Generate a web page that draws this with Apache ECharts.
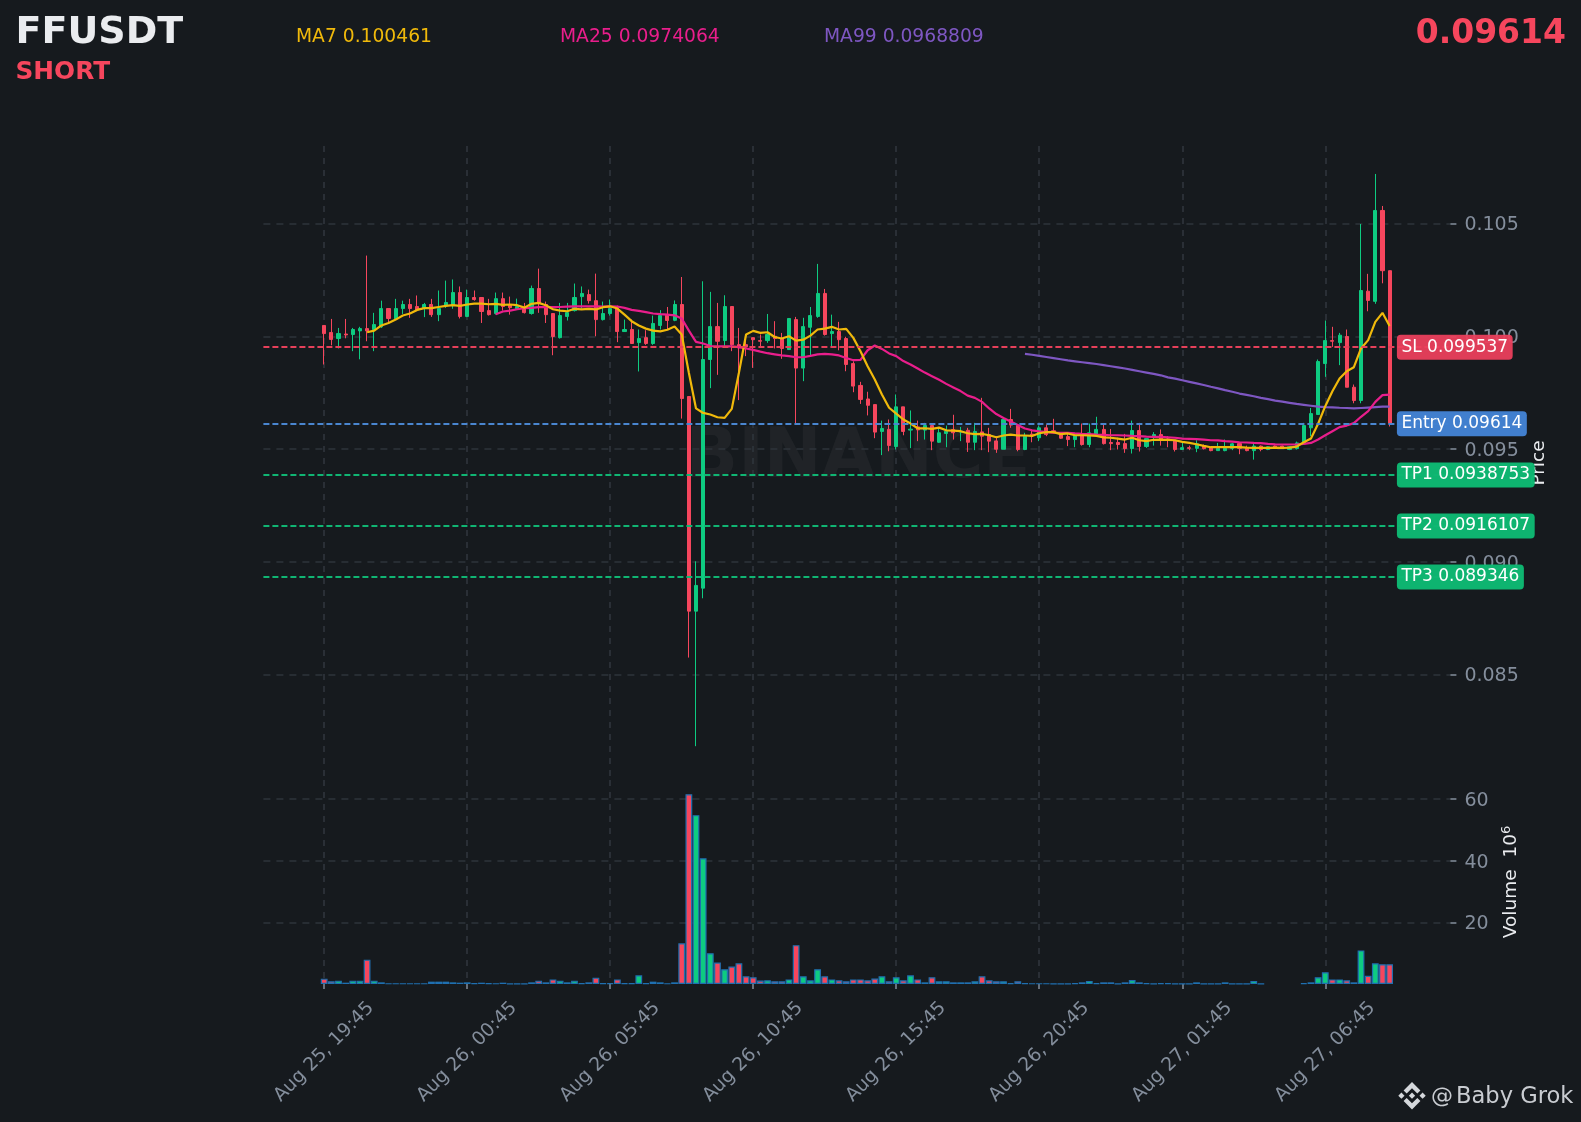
<!DOCTYPE html>
<html>
<head>
<meta charset="utf-8">
<style>html,body{margin:0;padding:0;background:#161A1E}#c{width:1581px;height:1122px}</style>
<script src="https://cdn.jsdelivr.net/npm/echarts@6/dist/echarts.min.js"></script>
</head>
<body>
<div id="c"></div>
<script>
const symbolName = 'FFUSDT';
const sideName = 'SHORT';
const lastPrice = '0.09614';
const maLabels = ['MA7 0.100461', 'MA25 0.0974064', 'MA99 0.0968809'];
const priceTicks = [0.085, 0.09, 0.095, 0.1, 0.105];
const volumeTicks = [20, 40, 60];
const tickLabels = ['Aug 25, 19:45','Aug 26, 00:45','Aug 26, 05:45','Aug 26, 10:45','Aug 26, 15:45','Aug 26, 20:45','Aug 27, 01:45','Aug 27, 06:45'];
const levelNames = ['SL','Entry','TP1','TP2','TP3'];
const levelValues = [0.099537,0.09614,0.0938753,0.0916107,0.089346];
const levelTexts = ['0.099537','0.09614','0.0938753','0.0916107','0.089346'];

// open, close, low, high in thousandths of USDT, one row per 15 minute candle
const ohlc = [
[100.48,100.12,98.75,100.48],[100.17,99.86,99.60,100.77],[99.90,100.12,99.46,100.37],[100.10,100.06,99.91,100.77],[100.08,100.30,99.34,100.37],
[100.24,100.34,98.98,100.42],[100.34,100.24,99.78,103.58],[100.30,100.52,99.34,101.04],[100.42,101.23,100.37,101.58],[101.23,100.79,100.59,101.23],
[100.77,101.23,100.74,101.66],[101.23,101.41,100.99,101.58],[101.41,101.23,100.82,101.66],[101.32,101.17,101.14,101.81],[101.26,101.41,100.85,101.48],
[101.41,100.96,100.86,101.66],[100.96,101.23,100.67,102.03],[101.35,101.50,101.26,102.47],[101.39,101.94,101.22,102.52],[101.94,100.88,100.79,102.21],
[100.88,101.72,100.85,102.07],[101.72,101.63,101.58,102.03],[101.72,101.10,100.59,101.72],[101.14,100.96,100.92,101.66],[101.01,101.67,100.96,101.94],
[101.67,101.32,101.14,101.94],[101.41,101.27,100.96,101.76],[101.22,101.32,101.19,101.67],[101.26,101.05,101.01,101.48],[101.01,102.12,100.96,102.25],
[102.12,101.45,101.04,103.00],[101.41,100.96,100.59,101.54],[101.01,99.99,99.16,101.01],[99.94,100.92,99.90,101.48],[100.88,101.05,100.70,101.48],
[101.14,101.72,101.10,102.34],[101.76,101.90,101.23,102.21],[101.85,101.58,101.45,102.07],[101.58,100.74,100.00,102.78],[100.74,101.01,100.70,101.54],
[101.01,101.23,100.92,101.63],[101.27,100.21,99.74,101.36],[100.21,100.30,100.19,100.74],[100.30,99.68,99.66,100.74],[99.72,99.90,98.44,100.30],
[99.94,99.68,99.62,100.27],[99.68,100.57,99.62,100.92],[100.48,100.92,100.30,101.16],[100.93,100.70,100.30,101.30],[100.71,101.41,100.67,101.59],
[101.41,97.24,96.35,102.63],[97.33,87.81,85.75,97.33],[87.81,88.95,81.82,90.02],[88.83,98.97,88.38,102.44],[98.97,100.43,97.70,101.97],
[100.43,99.78,98.29,101.48],[99.81,101.32,99.56,101.82],[101.32,99.63,99.34,101.32],[99.63,99.49,97.17,100.37],[99.63,99.53,99.12,100.08],
[99.94,99.85,98.60,99.94],[99.81,99.78,99.53,100.08],[99.81,100.08,99.71,100.99],[100.00,99.90,99.46,100.67],[99.88,99.46,99.00,100.15],
[99.41,100.79,99.41,100.79],[100.74,98.59,96.15,100.86],[98.59,100.43,98.01,100.82],[100.40,100.92,99.12,101.30],[100.88,101.90,100.82,103.21],
[101.90,100.08,100.03,102.10],[100.12,100.21,99.56,100.96],[100.21,99.85,99.38,100.64],[99.90,98.75,98.45,99.98],[98.79,97.79,97.52,98.89],
[97.82,97.20,97.00,97.98],[97.22,96.94,96.49,97.54],[96.97,95.75,95.48,96.97],[95.78,95.91,94.73,96.26],[95.87,95.16,94.90,96.31],
[95.11,96.87,94.98,97.42],[96.87,95.78,95.61,96.87],[95.84,95.88,95.04,96.71],[95.98,95.85,95.35,96.26],[95.84,96.04,95.42,96.16],
[96.04,95.35,94.95,96.04],[95.30,95.72,95.27,95.98],[95.69,95.79,95.08,96.04],[95.86,95.72,95.42,96.52],[95.75,95.79,95.35,95.98],
[95.83,95.30,94.87,95.94],[95.30,95.78,94.95,96.16],[95.76,95.57,94.95,97.27],[95.64,95.35,94.86,95.94],[95.36,94.99,94.83,95.57],
[94.99,96.31,94.99,96.31],[96.31,96.06,95.94,96.78],[96.04,94.98,94.90,96.09],[94.98,95.57,94.95,95.72],[95.66,95.63,95.30,95.86],
[95.50,95.94,95.35,96.04],[95.94,95.64,95.57,96.09],[95.81,95.72,95.69,96.34],[95.72,95.48,95.45,95.75],[95.55,95.42,95.13,95.72],
[95.42,95.60,95.08,95.62],[95.60,95.20,95.15,96.13],[95.20,95.72,95.08,96.13],[95.60,95.87,95.57,96.43],[95.87,95.24,95.20,96.13],
[95.29,95.24,94.95,95.89],[95.29,95.20,94.98,95.50],[95.24,95.02,94.83,95.67],[95.02,95.82,94.80,96.26],[95.82,95.11,94.89,96.16],
[95.11,95.46,95.05,95.46],[95.57,95.64,95.15,95.75],[95.64,95.42,95.15,95.87],[95.45,95.39,95.08,95.57],[95.39,94.98,94.89,95.39],
[94.98,95.06,94.98,95.27],[95.06,95.03,94.95,95.15],[95.03,95.23,94.86,95.39],[95.14,95.02,94.98,95.20],[95.06,94.93,94.90,95.06],
[94.93,95.03,94.93,95.27],[94.93,95.03,94.90,95.42],[95.03,95.23,94.95,95.27],[95.24,95.03,94.77,95.24],[95.03,94.93,94.90,95.15],
[94.93,95.13,94.53,95.27],[95.13,94.98,94.90,95.16],[94.98,95.10,94.95,95.13],[95.13,95.03,95.00,95.16],[95.13,95.03,95.00,95.15],
[94.98,95.10,94.95,95.12],[95.02,95.27,94.98,95.33],[95.23,96.04,95.20,96.16],[95.94,96.57,95.57,96.82],[96.53,98.88,96.53,98.97],
[98.79,99.81,98.20,100.70],[99.81,99.78,99.53,100.42],[99.72,100.05,98.72,100.15],[99.99,97.74,97.74,100.30],[97.74,97.15,97.03,97.86],
[97.15,102.03,97.03,104.98],[102.00,101.59,101.11,102.77],[101.55,105.58,101.44,107.20],[105.58,102.91,102.35,105.78],[102.91,96.14,96.00,102.91]
];

// volume in millions, one per candle
const volumes = [
1.73,.87,1.08,.43,1.08,1.08,7.9,1.08,.54,.15,
.15,.15,.15,.15,.15,.76,.76,.76,.54,.43,
.54,.2,.43,.2,.15,.43,.1,.1,.1,.54,
1.08,.54,1.5,1.08,.54,1.08,.2,.54,2.06,.2,
.2,1.5,.2,.2,2.8,.2,.76,.54,.15,.54,
13.2,61.6,54.8,40.8,10.0,7.0,4.8,5.7,6.7,2.5,
2.2,1.1,1.2,.87,.87,1.5,12.6,2.5,1.2,4.8,
2.5,1.5,1.2,.87,1.5,1.5,1.2,1.8,2.5,.87,
2.2,1.2,2.8,1.5,.54,2.2,.87,.87,.54,.54,
.54,.87,2.5,1.2,.87,.87,.3,.87,.2,.15,
.15,.15,.1,.05,.05,.3,.54,1.0,.3,.54,
.54,.05,.54,1.3,.54,.3,.05,.3,.3,.05,
.05,.05,.54,.05,.05,.05,.54,.05,.05,.05,
1.0,.05,null,null,null,null,null,.3,.54,2.2,
3.8,1.5,1.5,1.2,.54,10.9,2.7,6.7,6.4,6.4
];

// moving averages (thousandths of USDT)
const ma7 = [
100.18,100.25,100.48,100.59,100.74,100.92,101.01,101.17,101.25,101.25,
101.30,101.35,101.38,101.35,101.41,101.45,101.45,101.42,101.44,101.39,
101.41,101.38,101.27,101.44,101.48,101.38,101.20,101.14,101.11,101.22,
101.19,101.22,101.19,101.29,101.33,101.23,100.96,100.67,100.48,100.34,
100.25,100.22,100.29,100.43,100.08,98.38,96.80,96.60,96.53,96.41,
96.38,96.78,98.38,100.08,100.24,100.15,100.18,99.97,99.90,100.00,
99.81,99.85,100.03,100.30,100.34,100.42,100.30,100.33,99.93,99.34,
98.67,98.08,97.42,96.83,96.57,96.31,96.13,95.92,95.92,95.89,
95.95,95.83,95.82,95.79,95.70,95.66,95.67,95.61,95.52,95.60,
95.64,95.60,95.60,95.58,95.70,95.75,95.75,95.66,95.69,95.61,
95.61,95.60,95.58,95.52,95.50,95.46,95.42,95.50,95.39,95.35,
95.41,95.42,95.41,95.39,95.32,95.27,95.21,95.14,95.08,95.08,
95.08,95.08,95.08,95.06,95.05,95.05,95.05,95.06,95.05,95.06,
95.11,95.30,95.47,96.12,96.90,97.56,98.13,98.45,98.63,99.46,
99.83,100.64,101.04,100.46
];
const ma25 = [
100.98,101.10,101.14,101.20,101.25,101.26,101.29,101.29,101.29,101.30,
101.32,101.33,101.33,101.33,101.33,101.32,101.33,101.32,101.26,101.17,
101.13,101.07,101.01,100.98,100.96,100.93,100.79,100.25,99.75,99.68,
99.57,99.55,99.55,99.55,99.52,99.46,99.40,99.32,99.25,99.20,
99.15,99.12,99.07,99.07,99.13,99.20,99.22,99.20,99.15,99.04,
98.94,98.95,99.38,99.59,99.44,99.24,99.12,98.90,98.75,98.57,
98.39,98.23,98.07,97.89,97.73,97.57,97.37,97.27,97.09,96.80,
96.55,96.38,96.22,96.07,95.91,95.83,95.78,95.75,95.73,95.72,
95.72,95.69,95.67,95.66,95.64,95.63,95.61,95.61,95.60,95.58,
95.57,95.55,95.54,95.54,95.52,95.50,95.46,95.45,95.44,95.42,
95.39,95.38,95.35,95.33,95.30,95.29,95.27,95.26,95.23,95.21,
95.20,95.20,95.20,95.23,95.27,95.42,95.61,95.79,95.97,96.04,
96.15,96.43,96.68,97.09,97.39,97.41
];
const ma99 = [
99.22,99.18,99.13,99.08,99.03,98.98,98.93,98.89,98.85,98.81,
98.77,98.72,98.67,98.62,98.57,98.51,98.45,98.39,98.33,98.27,
98.18,98.12,98.05,97.98,97.91,97.84,97.76,97.69,97.61,97.54,
97.46,97.40,97.34,97.27,97.21,97.15,97.10,97.05,97.00,96.96,
96.92,96.88,96.86,96.85,96.83,96.82,96.80,96.82,96.84,96.86,
96.88,96.88
];

const MILLI = 1000;
const PAD = 8;
const UP = '#0ECB81', DOWN = '#F6465D', BG = '#161A1E';
const GRID_COLOR = '#2E343B', AXIS_TEXT = '#848E9C';
const lineColors = ['#E6405A','#4A86D0','#10B573','#10B573','#10B573'];
const labelColors = ['rgba(236,64,92,0.94)','rgba(66,130,210,0.98)','rgba(14,184,114,0.98)','rgba(14,184,114,0.98)','rgba(14,184,114,0.98)'];

// category axis: blank margin, 15 minute stamps, blank margin
const categories = [];
for (let i = 0; i < PAD; i++) categories.push('p' + i);
for (let i = 0; i < ohlc.length; i++) {
  categories.push(i % 20 === 0 ? tickLabels[i / 20] : 'c' + i);
}
for (let i = 0; i < PAD; i++) categories.push('q' + i);

const isTick = (idx) => idx >= PAD && idx - PAD < ohlc.length && (idx - PAD) % 20 === 0 && (idx - PAD) / 20 < tickLabels.length;

const pad = Array(PAD).fill(null);
const candleData = Array(PAD).fill(['-','-','-','-']).concat(ohlc.map(r => r.map(v => v / MILLI)));
const volumeData = pad.concat(volumes.map((v, i) => {
  if (v === null) return null;
  const up = ohlc[i][1] >= ohlc[i][0];
  return { value: v, itemStyle: { color: up ? UP : DOWN } };
}));
const maSeries = (values, start) => Array(PAD + start).fill(null).concat(values.map(v => v / MILLI));

const splitX = { show: true, interval: (i) => isTick(i), alignWithLabel: true, lineStyle: { color: GRID_COLOR, type: [6, 6], width: 1.7 } };
const splitY = { show: true, lineStyle: { color: GRID_COLOR, type: [7, 6], width: 1.6 } };

const markData = levelNames.map((n, i) => ({
  yAxis: levelValues[i],
  lineStyle: { color: lineColors[i], type: [6, 3], width: 1.8 },
  label: {
    show: true, position: 'end', distance: 0, align: 'left', verticalAlign: 'middle',
    offset: [-53.5, 0.5],
    formatter: n + ' ' + levelTexts[i],
    color: '#fff', fontSize: 17, fontFamily: 'DejaVu Sans', lineHeight: 17,
    backgroundColor: labelColors[i], padding: [4, 4.5, 4, 4.5], borderRadius: 4
  }
}));

const font = (w, s) => `${w} ${s}px "DejaVu Sans"`;
const txt = (x, y, text, fill, f, align) => ({
  type: 'text', z: 100, silent: true,
  style: { x, y, text, fill, font: f, textAlign: align || 'left', textVerticalAlign: 'middle' }
});
const LOGO = 0.2164;
const logoShape = (pts) => ({
  type: 'polygon', z: 100, silent: true, x: 1398.3, y: 1082, scaleX: LOGO, scaleY: LOGO,
  shape: { points: pts }, style: { fill: '#D5D8DC' }
});

const chart = echarts.init(document.getElementById('c'), null, { renderer: 'canvas' });
chart.setOption({
  animation: false,
  backgroundColor: BG,
  textStyle: { fontFamily: 'DejaVu Sans' },
  graphic: [
    { type: 'text', z: 0, silent: true, style: { x: 858, y: 459, text: 'BINANCE', fill: 'rgba(255,255,255,0.045)', font: font('bold', 69), textAlign: 'center', textVerticalAlign: 'middle' } },
    txt(15.5, 33, symbolName, '#EAECEF', font('bold', 38)),
    txt(15.5, 73, sideName, DOWN, font('bold', 24.8)),
    txt(296, 37.5, maLabels[0], '#F0B90B', font('normal', 18.7)),
    txt(560, 37.5, maLabels[1], '#E91E8C', font('normal', 18.7)),
    txt(824, 37.5, maLabels[2], '#7E57C2', font('normal', 18.7)),
    txt(1566, 34, lastPrice, DOWN, font('bold', 33), 'right'),
    txt(1431, 1097, '@', '#C9CCD1', font('normal', 22)),
    txt(1456, 1097, 'Baby Grok', '#C9CCD1', font('normal', 22.6)),
    logoShape([[38.73,53.2],[63.32,28.62],[87.92,53.22],[102.22,38.91],[63.32,0],[24.42,38.9]]),
    logoShape([[0,63.31],[14.3,49],[28.61,63.31],[14.3,77.61]]),
    logoShape([[38.73,73.41],[63.32,98],[87.92,73.4],[102.23,87.69],[63.33,126.6],[24.42,87.72]]),
    logoShape([[98,63.31],[112.3,49],[126.61,63.31],[112.3,77.61]]),
    logoShape([[77.83,63.3],[63.32,48.78],[48.81,63.28],[63.32,77.78]])
  ],
  grid: [
    { left: 263.4, width: 1187, top: 146, height: 634 },
    { left: 263.4, width: 1187, top: 780, height: 204 }
  ],
  xAxis: [
    { type: 'category', gridIndex: 0, data: categories, boundaryGap: true,
      axisLine: { show: false }, axisTick: { show: false }, axisLabel: { show: false }, splitLine: splitX },
    { type: 'category', gridIndex: 1, data: categories, boundaryGap: true,
      axisLine: { show: false },
      axisTick: { show: true, interval: (i) => isTick(i), alignWithLabel: true, length: 5, lineStyle: { color: '#848E9C', width: 1.5 } },
      axisLabel: { show: true, interval: (i) => isTick(i), rotate: 45, align: 'center', verticalAlign: 'middle', margin: 68, color: AXIS_TEXT, fontSize: 18.8, fontFamily: 'DejaVu Sans' },
      splitLine: splitX }
  ],
  yAxis: [
    { type: 'value', gridIndex: 0, position: 'right', scale: true, min: 0.08032, max: 0.10844,
      name: 'Price', nameLocation: 'middle', nameGap: 73, nameRotate: 90,
      nameTextStyle: { color: '#EAECEF', fontSize: 18.5, fontFamily: 'DejaVu Sans' },
      axisLine: { show: false },
      axisTick: { show: true, customValues: priceTicks, length: 6, lineStyle: { color: '#848E9C', width: 1.5 } },
      axisLabel: { show: true, customValues: priceTicks, margin: 14, color: AXIS_TEXT, fontSize: 19, fontFamily: 'DejaVu Sans', verticalAlign: 'top', lineHeight: 4, formatter: (v) => v.toFixed(3) },
      splitLine: splitY },
    { type: 'value', gridIndex: 1, position: 'right', min: 0, max: 66.2,
      name: 'Volume  10{s|6}', nameLocation: 'middle', nameGap: 50, nameRotate: 90,
      nameTextStyle: { color: '#EAECEF', fontSize: 18.5, fontFamily: 'DejaVu Sans',
        rich: { s: { color: '#EAECEF', fontSize: 13, fontFamily: 'DejaVu Sans', padding: [0, 0, 9, 0] } } },
      axisLine: { show: false },
      axisTick: { show: true, customValues: volumeTicks, length: 6, lineStyle: { color: '#848E9C', width: 1.5 } },
      axisLabel: { show: true, customValues: volumeTicks, margin: 14, color: AXIS_TEXT, fontSize: 19, fontFamily: 'DejaVu Sans', verticalAlign: 'top', lineHeight: 4 },
      splitLine: splitY }
  ],
  series: [
    { type: 'candlestick', xAxisIndex: 0, yAxisIndex: 0, data: candleData, barWidth: 3.6, z: 3,
      itemStyle: { color: UP, color0: DOWN, borderColor: UP, borderColor0: DOWN, borderWidth: 1 },
      markLine: { silent: true, symbol: 'none', animation: false, precision: 8, z: 6, data: markData } },
    { type: 'line', xAxisIndex: 0, yAxisIndex: 0, data: maSeries(ma99, 98), showSymbol: false, z: 4, lineStyle: { color: '#7E57C2', width: 2.2 } },
    { type: 'line', xAxisIndex: 0, yAxisIndex: 0, data: maSeries(ma25, 24), showSymbol: false, z: 4, lineStyle: { color: '#E91E8C', width: 2.2 } },
    { type: 'line', xAxisIndex: 0, yAxisIndex: 0, data: maSeries(ma7, 6), showSymbol: false, z: 5, lineStyle: { color: '#F0B90B', width: 2.2 } },
    { type: 'bar', xAxisIndex: 1, yAxisIndex: 1, data: volumeData, barWidth: 6.8, z: 3,
      itemStyle: { borderColor: '#1F6FB0', borderWidth: 1.2 } }
  ]
});
</script>
</body>
</html>
